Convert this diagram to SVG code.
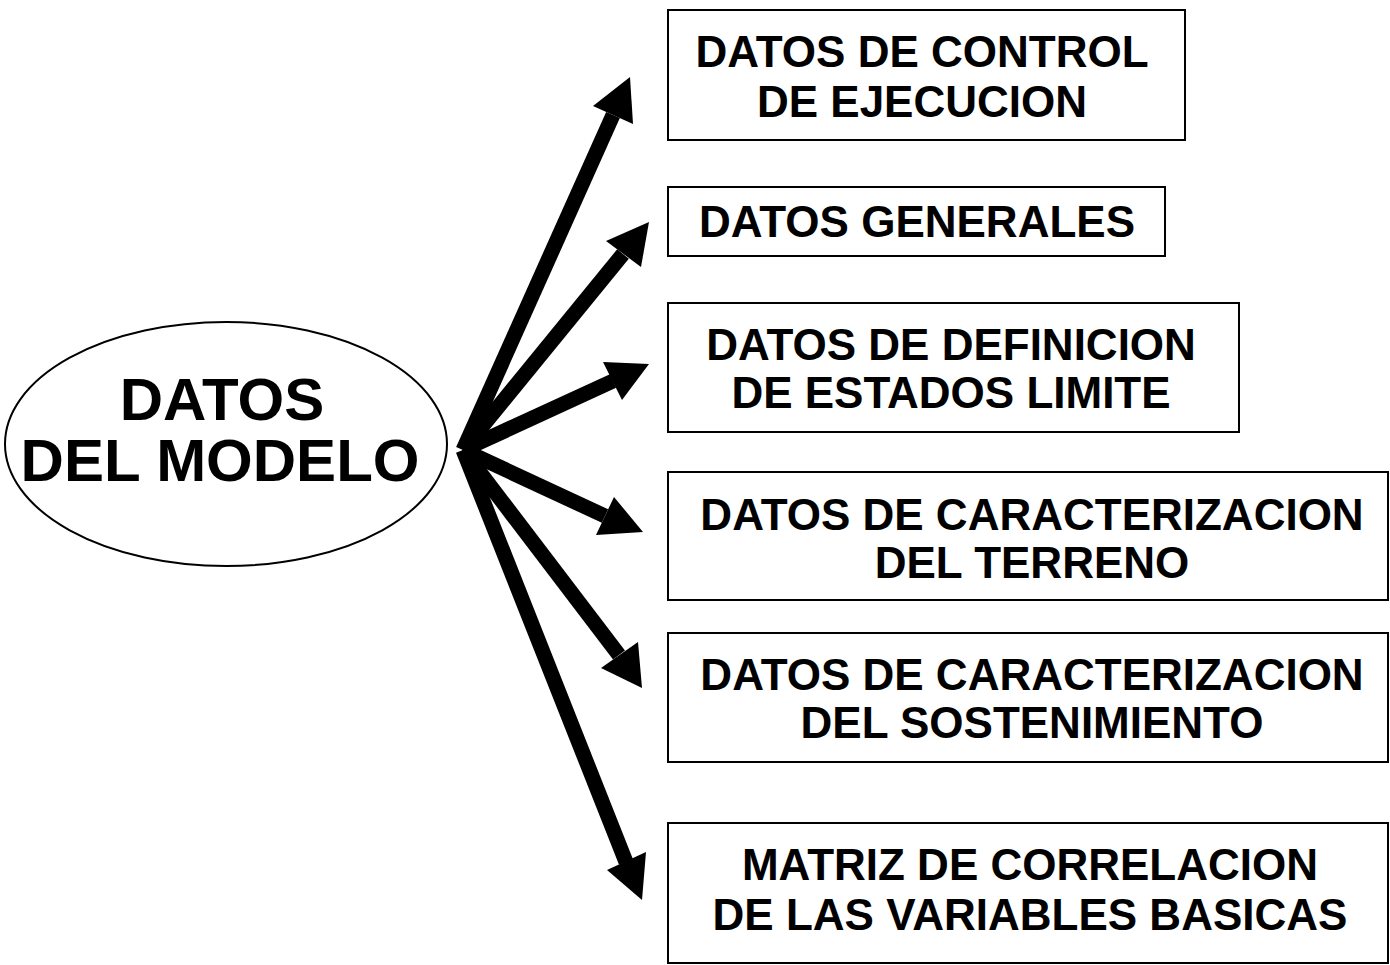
<svg xmlns="http://www.w3.org/2000/svg" width="1390" height="965" viewBox="0 0 1390 965">
<style>
.box{fill:#fff;stroke:#000;stroke-width:2}
.t{font-family:"Liberation Sans",Arial,sans-serif;font-weight:bold;font-size:44px;fill:#000;text-anchor:middle}
.big{font-size:60px}
.shaft{stroke:#000;stroke-width:15;stroke-linecap:butt;fill:none}
.head{fill:#000}
</style>
<rect width="1390" height="965" fill="#fff"/>
<g id="connectors">
<line class="shaft" x1="463" y1="450" x2="613" y2="115"/>
<polygon class="head" points="630,77 593,106 633,124"/>
<line class="shaft" x1="463" y1="450" x2="623" y2="254"/>
<polygon class="head" points="649,222 606,241 641,267"/>
<line class="shaft" x1="463" y1="450" x2="613" y2="381"/>
<polygon class="head" points="649,364 603,362 622,400"/>
<line class="shaft" x1="463" y1="450" x2="605" y2="516"/>
<polygon class="head" points="643,532 596,535 614,497"/>
<line class="shaft" x1="463" y1="450" x2="619" y2="655"/>
<polygon class="head" points="642,688 601,668 638,642"/>
<line class="shaft" x1="463" y1="450" x2="626" y2="862"/>
<polygon class="head" points="642,900 607,870 646,852"/>
</g>
<g id="modelo">
<ellipse cx="226" cy="444" rx="221" ry="122" fill="#fff" stroke="#000" stroke-width="2"/>
<text class="t big" x="222" y="420">DATOS</text>
<text class="t big" x="220" y="481">DEL MODELO</text>
</g>
<g id="control">
<rect class="box" x="668" y="10" width="517" height="130"/>
<text class="t" x="922" y="67">DATOS DE CONTROL</text>
<text class="t" x="922" y="117">DE EJECUCION</text>
</g>
<g id="generales">
<rect class="box" x="668" y="187" width="497" height="69"/>
<text class="t" x="917" y="237">DATOS GENERALES</text>
</g>
<g id="definicion">
<rect class="box" x="668" y="303" width="571" height="129"/>
<text class="t" x="951" y="360">DATOS DE DEFINICION</text>
<text class="t" x="951" y="408">DE ESTADOS LIMITE</text>
</g>
<g id="terreno">
<rect class="box" x="668" y="472" width="720" height="128"/>
<text class="t" x="1032" y="530">DATOS DE CARACTERIZACION</text>
<text class="t" x="1032" y="578">DEL TERRENO</text>
</g>
<g id="sostenimiento">
<rect class="box" x="668" y="633" width="720" height="129"/>
<text class="t" x="1032" y="690">DATOS DE CARACTERIZACION</text>
<text class="t" x="1032" y="738">DEL SOSTENIMIENTO</text>
</g>
<g id="matriz">
<rect class="box" x="668" y="823" width="720" height="140"/>
<text class="t" x="1030" y="880">MATRIZ DE CORRELACION</text>
<text class="t" x="1030" y="930">DE LAS VARIABLES BASICAS</text>
</g>
</svg>
